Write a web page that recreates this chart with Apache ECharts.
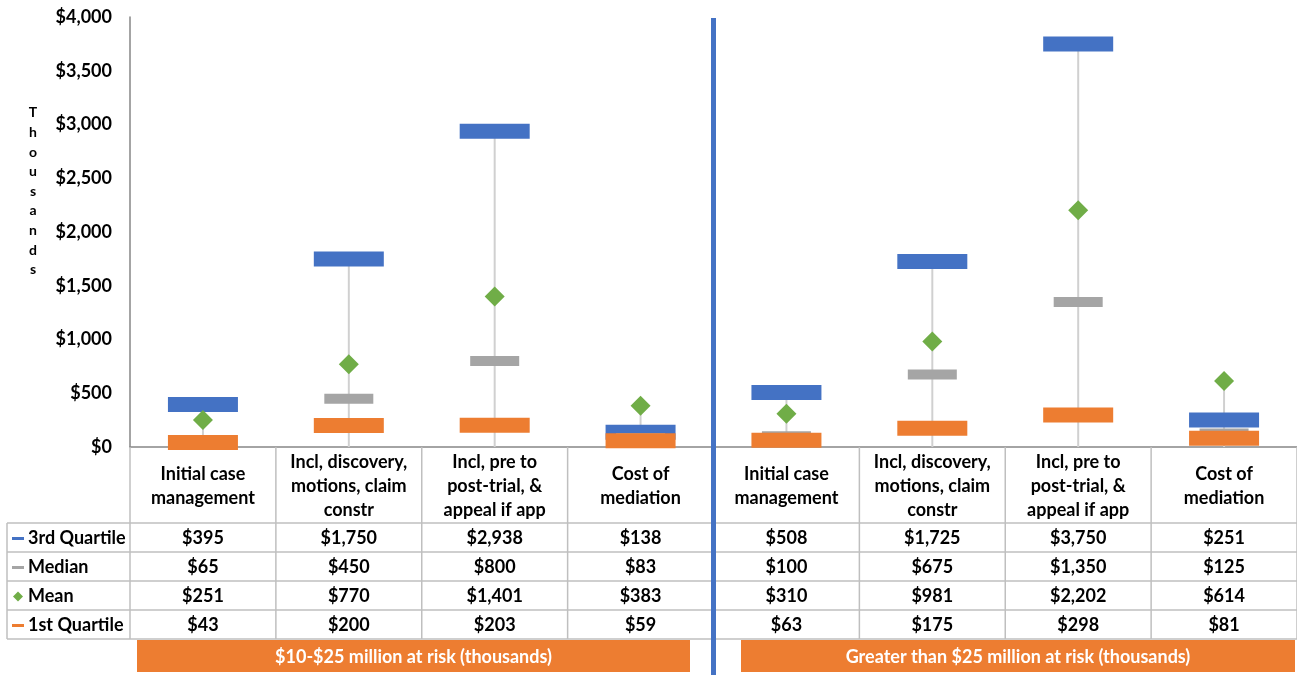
<!DOCTYPE html>
<html>
<head>
<meta charset="utf-8">
<script src="https://cdn.jsdelivr.net/npm/echarts@6/dist/echarts.min.js"></script>
<style>
html, body { margin: 0; padding: 0; background: #fff; }
#main { width: 1297px; height: 675px; }
</style>
</head>
<body>
<div id="main"></div>
<script>
// categories, twice (one block per risk group)
var catLabels = [
  'Initial case\nmanagement', 'Incl, discovery,\nmotions, claim\nconstr', 'Incl, pre to\npost-trial, &\nappeal if app', 'Cost of\nmediation',
  'Initial case\nmanagement', 'Incl, discovery,\nmotions, claim\nconstr', 'Incl, pre to\npost-trial, &\nappeal if app', 'Cost of\nmediation'
];
var groupLabels = ['$10-$25 million at risk (thousands)', 'Greater than $25 million at risk (thousands)'];
var seriesNames = ['3rd Quartile', 'Median', 'Mean', '1st Quartile'];

var q3     = [395, 1750, 2938, 138, 508, 1725, 3750, 251];
var median = [65, 450, 800, 83, 100, 675, 1350, 125];
var mean   = [251, 770, 1401, 383, 310, 981, 2202, 614];
var q1     = [43, 200, 203, 59, 63, 175, 298, 81];

var yTicks = [0, 500, 1000, 1500, 2000, 2500, 3000, 3500, 4000];

var FONT = 'Lato';
var colors = ['#4472c4', '#a5a5a5', '#70ad47', '#ed7d31'];

function money(v){
  return '$' + v.toString().replace(/\B(?=(\d{3})+(?!\d))/g, ',');
}

var chart = echarts.init(document.getElementById('main'));

var hlData = [];
for (var i = 0; i < catLabels.length; i++) {
  hlData.push([i, q3[i], median[i], mean[i], q1[i]]);
}

var option = {
  backgroundColor: '#fff',
  animation: false,
  grid: { left: 130, right: 0, top: 17, bottom: 228 },
  xAxis: {
    type: 'category',
    data: catLabels,
    axisLine: { lineStyle: { color: '#868686', width: 1.5 } },
    axisTick: { show: false },
    axisLabel: { show: false }
  },
  yAxis: {
    type: 'value',
    min: yTicks[0],
    max: yTicks[yTicks.length - 1],
    interval: 500,
    axisLine: { show: true, lineStyle: { color: '#868686', width: 1.5 } },
    axisTick: { show: false },
    splitLine: { show: false },
    axisLabel: {
      margin: 18,
      formatter: function(v){ return money(v); },
      fontFamily: FONT, fontWeight: 'bold', fontSize: 18, color: '#000'
    }
  },
  series: [
    {
      // high-low line, from the axis up to the highest marker
      type: 'custom',
      silent: true,
      z: 1,
      data: hlData,
      renderItem: function(params, api){
        var top = Math.max(api.value(1), api.value(2), api.value(3), api.value(4));
        var p0 = api.coord([api.value(0), 0]);
        var p1 = api.coord([api.value(0), top]);
        return {
          type: 'line',
          shape: { x1: p0[0], y1: p0[1], x2: p1[0], y2: p1[1] },
          style: { stroke: '#d0d0d0', lineWidth: 2 }
        };
      }
    },
    { name: seriesNames[0], type: 'scatter', z: 2, symbol: 'rect', symbolSize: [70, 15], itemStyle: { color: colors[0], opacity: 1 }, data: q3 },
    { name: seriesNames[1], type: 'scatter', z: 3, symbol: 'rect', symbolSize: [49, 10], itemStyle: { color: colors[1], opacity: 1 }, data: median },
    { name: seriesNames[2], type: 'scatter', z: 4, symbol: 'diamond', symbolSize: [20, 20], itemStyle: { color: colors[2], opacity: 1 }, data: mean },
    { name: seriesNames[3], type: 'scatter', z: 5, symbol: 'rect', symbolSize: [70, 15], itemStyle: { color: colors[3], opacity: 1 }, data: q1 }
  ]
};
chart.setOption(option);

// data table under the plot
var rows = [q3, median, mean, q1];
var gridRight = 1297, axisY = 447;
var headerBottom = 523, rowH = 29, tableLeft = 7;
var lineColor = '#bfbfbf';
var c0 = chart.convertToPixel({ xAxisIndex: 0 }, 0);
var c1 = chart.convertToPixel({ xAxisIndex: 0 }, 1);
var band = c1 - c0;
var tableBottom = headerBottom + rowH * rows.length;
var g = [];

function hline(x1, x2, y){
  g.push({ type: 'line', shape: { x1: x1, y1: y, x2: x2, y2: y }, style: { stroke: lineColor, lineWidth: 1.5 }, z: 10 });
}
function vline(x, y1, y2){
  g.push({ type: 'line', shape: { x1: x, y1: y1, x2: x, y2: y2 }, style: { stroke: lineColor, lineWidth: 1.5 }, z: 10 });
}

for (var r = 0; r <= rows.length; r++) {
  hline(tableLeft, gridRight, headerBottom + r * rowH);
}
vline(tableLeft, headerBottom, tableBottom);
for (var k = 0; k <= catLabels.length; k++) {
  vline(c0 - band / 2 + k * band, axisY, tableBottom);
}

for (var i = 0; i < catLabels.length; i++) {
  var cx = chart.convertToPixel({ xAxisIndex: 0 }, i);
  g.push({
    type: 'text', x: cx, y: (axisY + headerBottom) / 2 + 1, z: 11,
    style: { text: catLabels[i], align: 'center', verticalAlign: 'middle', lineHeight: 24,
      font: 'bold 18px ' + FONT, fill: '#000' }
  });
  for (var r = 0; r < rows.length; r++) {
    g.push({
      type: 'text', x: cx, y: headerBottom + r * rowH + rowH / 2 + 1, z: 11,
      style: { text: money(rows[r][i]), align: 'center', verticalAlign: 'middle',
        font: 'bold 18px ' + FONT, fill: '#000' }
    });
  }
}

// row labels with legend keys
for (var r = 0; r < seriesNames.length; r++) {
  var yy = headerBottom + r * rowH + rowH / 2 + 1;
  if (r === 2) {
    g.push({ type: 'polygon', z: 11, shape: { points: [[18, yy - 5], [23, yy], [18, yy + 5], [13, yy]] }, style: { fill: colors[r] } });
  } else {
    g.push({ type: 'rect', z: 11, shape: { x: 12, y: yy - 1.5, width: 12, height: 3 }, style: { fill: colors[r] } });
  }
  g.push({
    type: 'text', x: 28, y: yy, z: 11,
    style: { text: seriesNames[r], align: 'left', verticalAlign: 'middle', font: 'bold 18px ' + FONT, fill: '#000' }
  });
}

// y axis title, one letter per line
g.push({
  type: 'text', x: 33, y: 103, z: 11,
  style: { text: 'Thousands'.split('').join('\n'), align: 'center', verticalAlign: 'top', lineHeight: 19.6,
    font: 'bold 14px ' + FONT, fill: '#000' }
});

// group banners
var banners = [[137, 690], [741, 1295]];
for (var b = 0; b < banners.length; b++) {
  g.push({ type: 'rect', z: 11, shape: { x: banners[b][0], y: 640, width: banners[b][1] - banners[b][0], height: 32 }, style: { fill: '#ed7d31' } });
  g.push({
    type: 'text', x: (banners[b][0] + banners[b][1]) / 2, y: 657, z: 12,
    style: { text: groupLabels[b], align: 'center', verticalAlign: 'middle', font: 'bold 18px ' + FONT, fill: '#fff' }
  });
}

// divider between the two groups
var divX = c0 - band / 2 + 4 * band;
g.push({ type: 'line', z: 20, shape: { x1: divX, y1: 18, x2: divX, y2: 675 }, style: { stroke: '#4472c4', lineWidth: 5 } });

chart.setOption({ graphic: g });
</script>
</body>
</html>
